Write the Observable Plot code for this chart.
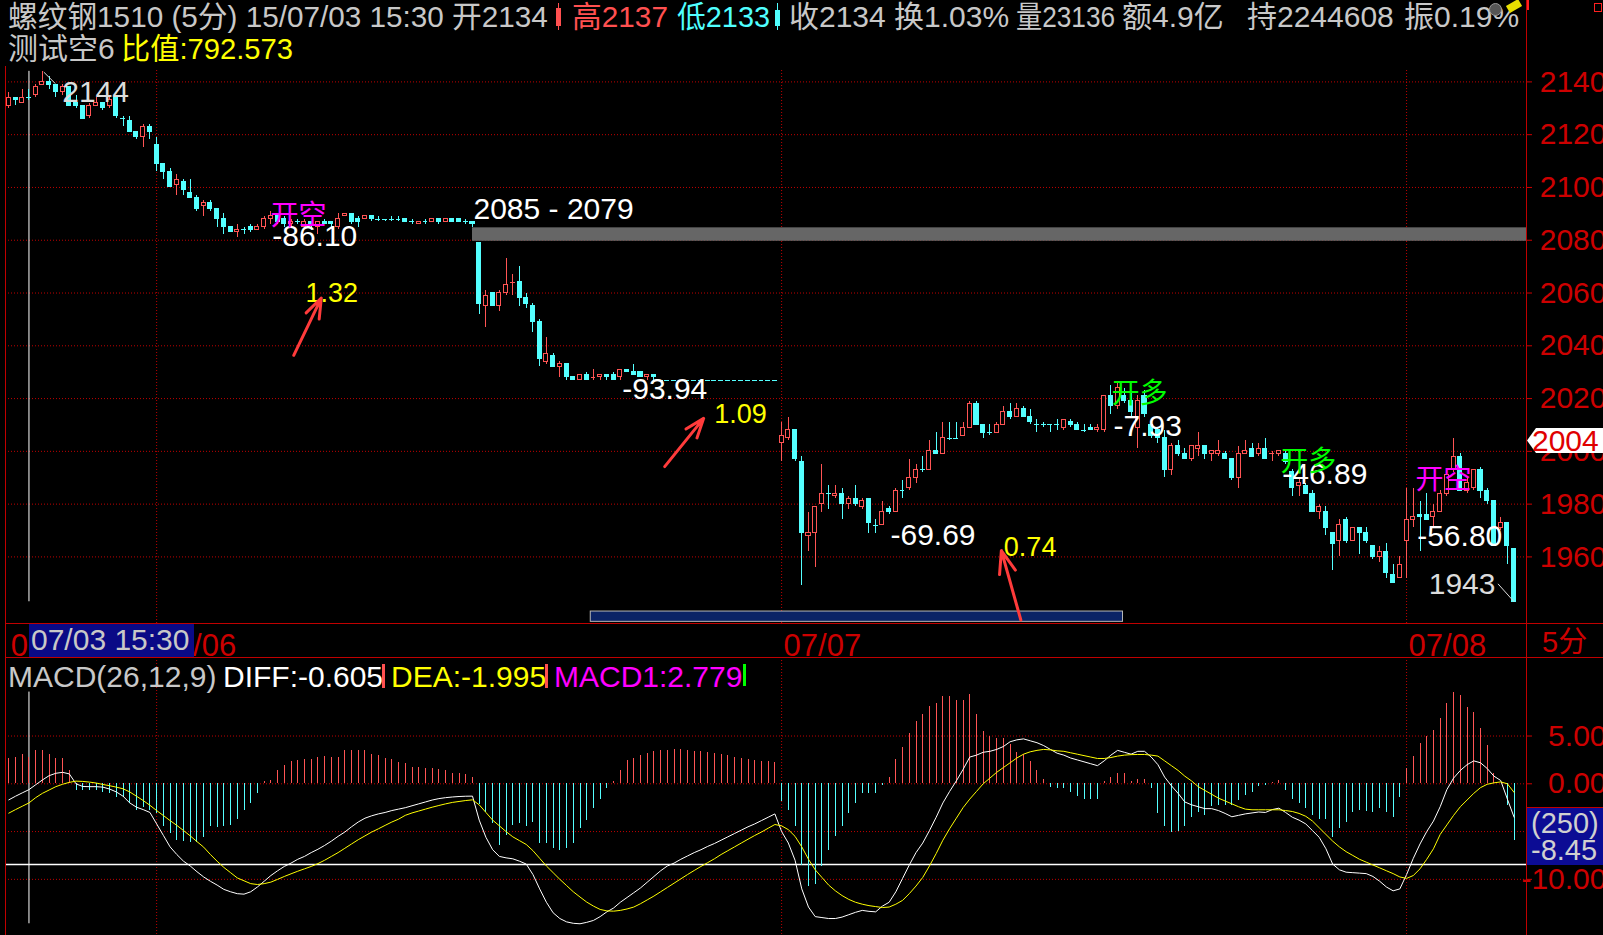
<!DOCTYPE html>
<html lang="zh">
<head>
<meta charset="utf-8">
<title>螺纹钢1510 (5分)</title>
<script src="https://cdn.jsdelivr.net/npm/d3@7"></script>
<script src="https://cdn.jsdelivr.net/npm/@observablehq/plot@0.6"></script>
<style>
html,body{margin:0;padding:0;background:#000;}
body{width:1603px;height:935px;overflow:hidden;position:relative;font-family:"Liberation Sans","Noto Sans CJK SC",sans-serif;}
.abs{position:absolute;}
.t{position:absolute;white-space:nowrap;transform-origin:0 50%;}
</style>
</head>
<body>
<script>
// ---------------- DATA ----------------
// 5-minute bars, 07/03 (part) .. 07/08 (part)
const open = [
2131,2134,2132,2134,2135,2139,2140,2139,2136,2138,
2132,2131,2127,2131,2132,2131,2134,2126,2125,2121,
2119,2123,2116,2109,2106,2101,2102,2098,2096,2093,
2094,2092,2088,2085,2083,2084,2085,2084,2085,2088,
2089,2088,2086,2087,2085,2087,2085,2087,2087,2085,
2089,2090,2088,2088,2089,2088,2088,2088,2088,2088,
2087,2086,2087,2087,2088,2087,2088,2088,2087,2087,
2079,2055,2060,2055,2060,2064,2064,2058,2055,2049,
2034,2036,2032,2033,2028,2027,2029,2028,2028,2029,
2029,2028,2031,2030,2030,2028,2029,2027,2027,2027,
2027,2027,2027,2027,2027,2027,2027,2027,2027,2027,
2027,2027,2027,2027,2027,2003,2005,2008,1996,1968,
1969,1980,1984,1983,1984,1980,1982,1979,1982,1972,
1972,1978,1977,1985,1986,1990,1993,1993,2000,1999,
2005,2005,2006,2009,2018,2010,2007,2007,2010,2015,
2013,2016,2013,2010,2010,2010,2010,2009,2011,2010,
2008,2009,2008,2008,2021,2017,2021,2019,2009,2021,
2010,2008,2005,1993,2002,1999,1997,2001,2002,1999,
1999,1999,1997,1990,1999,2001,1999,2001,1999,1999,
1999,1992,1987,1987,1984,1977,1977,1969,1966,1974,
1966,1971,1969,1964,1960,1962,1953,1952,1966,1974,
1976,1976,1975,1977,1984,1993,1998,1985,1986,1993,
1985,1981,1971,1973,1963];
const high = [
2136,2134,2137,2137,2139,2144,2142,2139,2139,2138,
2135,2131,2132,2134,2132,2134,2134,2127,2127,2121,
2124,2124,2119,2109,2107,2105,2103,2103,2097,2095,
2095,2092,2090,2085,2086,2085,2086,2086,2089,2091,
2089,2089,2088,2088,2088,2087,2087,2088,2087,2090,
2090,2090,2089,2089,2089,2089,2088,2089,2089,2088,
2088,2087,2088,2088,2088,2088,2088,2088,2088,2087,
2079,2061,2060,2061,2073,2067,2070,2060,2056,2050,
2043,2037,2034,2033,2028,2029,2030,2031,2029,2029,
2030,2031,2031,2033,2030,2029,2029,2027,2027,2027,
2027,2027,2027,2027,2027,2027,2027,2027,2027,2027,
2027,2027,2027,2027,2027,2011,2013,2008,1998,1977,
1979,1995,1987,1987,1986,1983,1987,1982,1982,1974,
1981,1979,1986,1989,1997,1995,1998,2004,2007,2011,
2011,2011,2011,2019,2019,2010,2010,2011,2017,2018,
2018,2017,2016,2012,2011,2010,2012,2012,2012,2011,
2010,2010,2010,2021,2025,2026,2024,2022,2021,2023,
2012,2009,2008,2003,2004,2001,2002,2007,2002,2000,
2004,2000,1997,2002,2004,2003,2003,2005,2000,2000,
2000,1993,1990,1988,1985,1980,1979,1969,1974,1975,
1971,1971,1971,1964,1964,1965,1957,1960,1986,1986,
1981,1984,1980,1985,1991,2005,1999,1990,1993,1994,
1986,1981,1975,1973,1963];
const low = [
2130,2131,2132,2133,2134,2139,2137,2134,2135,2131,
2130,2126,2126,2131,2129,2130,2126,2123,2121,2118,
2115,2118,2106,2103,2100,2097,2097,2096,2091,2089,
2091,2085,2082,2083,2081,2082,2083,2084,2084,2086,
2086,2085,2085,2086,2085,2084,2082,2086,2085,2084,
2089,2086,2085,2088,2087,2087,2087,2087,2087,2087,
2086,2086,2086,2087,2086,2087,2087,2087,2086,2085,
2052,2047,2055,2053,2059,2059,2055,2054,2045,2032,
2033,2032,2028,2027,2027,2027,2027,2027,2027,2027,
2027,2027,2030,2029,2028,2027,2027,2027,2027,2027,
2027,2027,2027,2027,2027,2027,2027,2027,2027,2027,
2027,2027,2027,2027,2027,1996,2004,1996,1949,1962,
1956,1977,1978,1982,1974,1978,1979,1978,1969,1969,
1972,1976,1977,1982,1985,1988,1992,1993,1999,1999,
2004,2005,2006,2009,2010,2005,2006,2007,2010,2012,
2013,2013,2010,2007,2009,2007,2008,2008,2009,2008,
2007,2008,2007,2007,2014,2016,2018,2013,2001,2013,
2005,2003,1990,1991,1998,1997,1996,1998,1997,1996,
1998,1997,1989,1986,1999,1998,1998,1997,1996,1998,
1995,1983,1983,1984,1977,1974,1968,1955,1960,1965,
1966,1961,1965,1959,1958,1952,1950,1952,1952,1971,
1962,1974,1971,1977,1983,1992,1985,1984,1985,1982,
1980,1964,1970,1957,1943];
const close = [
2134,2133,2134,2134,2138,2140,2139,2136,2138,2131,
2131,2126,2131,2132,2130,2133,2127,2126,2121,2119,
2123,2121,2109,2106,2100,2103,2099,2096,2092,2094,
2092,2088,2085,2083,2084,2084,2084,2085,2088,2089,
2087,2086,2087,2087,2087,2086,2087,2086,2086,2088,
2090,2087,2087,2089,2088,2088,2088,2088,2088,2087,
2087,2087,2087,2088,2087,2088,2087,2087,2087,2086,
2056,2059,2055,2060,2063,2064,2058,2056,2049,2035,
2037,2032,2033,2028,2027,2029,2027,2028,2029,2028,
2027,2031,2030,2029,2028,2029,2028,2027,2027,2027,
2027,2027,2027,2027,2027,2027,2027,2027,2027,2027,
2027,2027,2027,2027,2027,2006,2008,1997,1969,1969,
1979,1984,1984,1984,1980,1982,1980,1981,1973,1972,
1977,1977,1985,1985,1990,1993,1993,2000,1999,2005,
2005,2005,2009,2018,2010,2007,2007,2010,2015,2013,
2016,2013,2011,2010,2010,2010,2010,2012,2010,2008,
2008,2008,2009,2021,2017,2024,2019,2015,2019,2014,
2006,2005,1993,2002,1999,1997,2002,2002,1999,2000,
2000,1997,1990,1999,2000,1998,2001,1997,1999,2000,
1996,1986,1988,1984,1977,1979,1971,1965,1972,1966,
1971,1969,1966,1960,1962,1954,1950,1957,1974,1975,
1975,1974,1977,1984,1991,1998,1985,1988,1993,1985,
1981,1964,1973,1964,1943];

// MACD(26,12,9)
const diff = [
-1.68,-1.3,-0.95,-0.61,-0.1,0.4,0.85,1.1,1.2,1.04,
0.0,-0.28,-0.3,-0.3,-0.35,-0.55,-0.85,-1.3,-2.0,-2.45,
-2.7,-3.0,-4.2,-5.4,-6.6,-7.4,-8.1,-8.6,-9.2,-9.75,
-10.2,-10.6,-11.05,-11.3,-11.5,-11.55,-11.3,-10.8,-10.2,-9.6,
-9.1,-8.65,-8.3,-7.9,-7.6,-7.2,-6.85,-6.45,-6.0,-5.5,
-5.05,-4.5,-4.0,-3.6,-3.35,-3.15,-3.0,-2.8,-2.65,-2.5,
-2.3,-2.1,-1.9,-1.7,-1.55,-1.45,-1.38,-1.33,-1.3,-1.29,
-3.8,-5.6,-6.9,-7.6,-7.75,-7.85,-8.1,-8.4,-9.5,-11.0,
-12.4,-13.5,-14.1,-14.45,-14.6,-14.65,-14.5,-14.3,-13.9,-13.4,
-13.0,-12.4,-11.9,-11.4,-10.9,-10.3,-9.7,-9.1,-8.6,-8.3,
-7.9,-7.55,-7.2,-6.9,-6.55,-6.25,-5.9,-5.55,-5.2,-4.85,
-4.5,-4.2,-3.85,-3.5,-3.15,-5.0,-6.2,-8.0,-11.0,-12.9,
-13.9,-14.0,-14.1,-14.1,-13.95,-13.7,-13.45,-13.25,-13.35,-13.4,
-12.8,-12.4,-11.3,-9.9,-8.5,-7.2,-6.2,-4.9,-3.5,-2.0,
-0.8,0.3,1.5,2.8,3.0,3.3,3.4,3.6,3.9,4.4,
4.6,4.7,4.5,4.3,4.0,3.6,3.2,3.0,2.7,2.5,
2.3,2.1,1.9,2.4,3.0,3.5,3.3,3.1,3.4,3.4,
2.8,2.0,0.7,-0.2,-1.0,-1.9,-2.2,-2.4,-2.6,-2.6,
-2.8,-3.1,-3.45,-3.3,-3.15,-3.05,-2.95,-3.0,-2.7,-2.55,
-3.0,-3.5,-3.8,-4.2,-4.9,-5.6,-6.8,-8.4,-9.0,-9.25,
-9.3,-9.35,-9.4,-9.7,-10.2,-10.8,-11.2,-11.0,-9.5,-7.8,
-6.3,-5.0,-3.9,-2.4,-0.6,0.6,1.4,2.0,2.4,2.2,
1.6,0.8,0.35,-1.6,-3.5];
const dea = [
-3.07,-2.7,-2.35,-2.0,-1.45,-1.0,-0.65,-0.3,-0.05,0.15,
0.28,0.25,0.18,0.08,-0.07,-0.2,-0.35,-0.52,-0.85,-1.3,
-1.75,-2.25,-2.8,-3.32,-3.85,-4.35,-4.89,-5.45,-6.05,-6.63,
-7.4,-8.1,-8.75,-9.3,-9.85,-10.15,-10.45,-10.54,-10.45,-10.29,
-10.0,-9.7,-9.42,-9.15,-8.9,-8.65,-8.35,-8.0,-7.6,-7.2,
-6.75,-6.3,-5.85,-5.45,-5.05,-4.71,-4.35,-4.0,-3.7,-3.3,
-3.05,-2.85,-2.65,-2.45,-2.27,-2.1,-1.95,-1.85,-1.75,-1.68,
-2.2,-3.0,-3.8,-4.4,-5.0,-5.55,-5.95,-6.35,-7.0,-7.8,
-8.6,-9.3,-10.0,-10.65,-11.3,-11.85,-12.38,-12.8,-13.15,-13.3,
-13.33,-13.25,-13.1,-12.9,-12.55,-12.15,-11.75,-11.3,-10.85,-10.4,
-9.95,-9.5,-9.07,-8.65,-8.25,-7.85,-7.4,-7.0,-6.6,-6.2,
-5.8,-5.41,-5.05,-4.65,-4.26,-4.4,-4.8,-5.5,-6.6,-7.9,
-9.0,-9.8,-10.6,-11.2,-11.7,-12.1,-12.4,-12.6,-12.75,-12.85,
-12.95,-12.9,-12.6,-12.2,-11.5,-10.7,-9.8,-8.6,-7.3,-5.9,
-4.7,-3.6,-2.5,-1.6,-0.8,0.0,0.6,1.2,1.7,2.2,
2.7,3.1,3.35,3.5,3.6,3.55,3.45,3.4,3.25,3.1,
2.95,2.8,2.65,2.65,2.75,2.9,3.0,3.05,3.07,3.07,
3.0,2.9,2.4,1.9,1.4,0.8,0.3,-0.3,-0.7,-1.1,
-1.5,-1.8,-2.1,-2.4,-2.65,-2.72,-2.72,-2.72,-2.72,-2.72,
-2.8,-2.9,-3.1,-3.4,-3.9,-4.6,-5.3,-6.0,-6.6,-7.1,
-7.5,-7.9,-8.2,-8.5,-8.8,-9.1,-9.4,-9.75,-9.9,-9.6,
-8.9,-7.9,-6.8,-5.3,-4.3,-3.3,-2.4,-1.7,-1.0,-0.4,
-0.05,0.1,0.2,0.0,-0.9];
const macd1 = [
2.61,2.79,3.07,2.78,3.49,3.49,3.07,2.61,2.61,1.39,
-0.7,-0.7,-0.7,-0.7,-0.9,-1.0,-1.4,-1.4,-2.1,-2.8,
-2.5,-2.8,-3.1,-4.5,-5.2,-5.9,-6.0,-6.1,-6.1,-5.6,
-4.5,-4.6,-4.5,-4.4,-3.7,-2.8,-2.1,-1.0,0.2,0.35,
1.39,1.9,2.3,2.4,2.5,2.5,2.8,2.9,2.8,2.8,
3.5,3.45,3.5,3.45,3.1,2.96,2.7,2.5,2.2,2.1,
1.7,1.7,1.6,1.6,1.5,1.4,1.1,1.05,1.0,0.7,
-2.2,-3.0,-4.2,-6.5,-5.4,-4.4,-4.2,-4.5,-4.0,-6.3,
-6.3,-6.8,-7.0,-6.8,-6.3,-4.7,-3.8,-2.6,-1.6,-0.5,
0.2,1.4,2.4,2.7,3.0,3.2,3.4,3.5,3.5,3.6,
3.6,3.5,3.4,3.4,3.3,3.2,3.1,3.0,2.8,2.7,
2.5,2.4,2.35,2.3,2.2,-1.9,-2.8,-4.5,-8.5,-10.8,
-10.5,-8.7,-7.0,-5.5,-4.5,-3.1,-2.1,-1.05,-1.0,-1.0,
-0.2,0.7,2.5,3.8,5.3,6.5,7.3,8.1,8.4,9.1,
9.1,8.7,8.7,9.3,7.3,5.5,4.9,4.7,4.7,4.1,
3.3,3.1,2.3,1.4,0.5,-0.35,-0.5,-0.5,-0.9,-1.3,
-1.6,-1.6,-1.6,0.2,0.7,1.1,1.1,0.2,0.4,0.5,
-0.5,-3.1,-4.5,-5.1,-5.0,-4.5,-3.5,-3.0,-3.3,-2.4,
-2.3,-2.3,-2.3,-1.75,-1.2,-0.9,-0.3,-0.2,0.1,0.35,
-0.7,-1.6,-2.1,-2.6,-3.3,-3.7,-3.7,-5.6,-4.7,-4.0,
-3.0,-2.8,-2.9,-3.0,-2.6,-3.0,-3.5,-1.4,1.6,2.9,
4.2,4.95,5.6,6.8,8.4,9.6,9.2,8.0,7.5,5.75,
4.0,1.05,0.0,-2.3,-5.9];

const priceTicks = [2140,2120,2100,2080,2060,2040,2020,2000,1980,1960];
const macdTicks = [5,0,-10];
const macdGrid = [5,0,-5,-10];
const dayStart = [0,22,115,208];
const dayLabel = ["07/03","07/06","07/07","07/08"];
const cursorBar = 3;
const macdRef = -8.45;

// drawings on the price panel (bar index, price)
const notes = [
 {text:"2144", bar:7.95, price:2132.3, kind:"extreme"},
 {text:"开空", bar:38.94, price:2085.7, kind:"short"},
 {text:"-86.10", bar:39.2, price:2078.0, kind:"pnl"},
 {text:"1.32", bar:44.15, price:2056.5, kind:"ratio"},
 {text:"2085 - 2079", bar:69.15, price:2088.2, kind:"pnl"},
 {text:"-93.94", bar:91.28, price:2019.8, kind:"pnl"},
 {text:"1.09", bar:104.96, price:2010.7, kind:"ratio"},
 {text:"-69.69", bar:131.2, price:1964.7, kind:"pnl"},
 {text:"0.74", bar:148.07, price:1960.2, kind:"ratio"},
 {text:"开多", bar:164.1, price:2018.5, kind:"long"},
 {text:"-7.93", bar:164.4, price:2006.0, kind:"pnl"},
 {text:"开多", bar:189.2, price:1992.7, kind:"long"},
 {text:"-46.89", bar:189.5, price:1987.7, kind:"pnl"},
 {text:"开空", bar:209.33, price:1985.9, kind:"short"},
 {text:"-56.80", bar:209.58, price:1964.1, kind:"pnl"},
 {text:"1943", bar:211.3, price:1946.1, kind:"extreme"}
];
const leaders = [
 {b1:5.21, p1:2143.7, b2:6.95, p2:2139.3},
 {b1:221.6, p1:1949.8, b2:224, p2:1943}
];
const arrows = [
 {b1:42.4, p1:2036.4, b2:46.5, p2:2058.1},
 {b1:97.6, p1:1994.2, b2:103.4, p2:2012.5},
 {b1:150.6, p1:1936.1, b2:147.7, p2:1962.4}
];
const gapZone = {from:69, high:2084.7, low:2079.6};
const blueBar = {from:86.6, to:165.8, high:1939.3, low:1935.4};

// ---------------- STYLE ----------------
const RED = "#ff5454", CYAN = "#54ffff", GRID = "#c00000", AXIS = "#cc0000",
      GRAY = "#c8c8c8", YEL = "#ffff00", MAG = "#ff00ff", GRN = "#00ff00", WHITE = "#ffffff";
const FONT = '"Liberation Sans","Noto Sans CJK SC",sans-serif';
const kindColor = {extreme:"#dcdcdc", short:MAG, long:GRN, pnl:WHITE, ratio:YEL};
const N = close.length;
const X = {domain:[0, N - 1], range:[8.3, 1513.6], axis:null};
const svgStyle = {background:"transparent", fontFamily:FONT, overflow:"visible", maxWidth:"none"};

const bars = d3.range(N).map(i => ({
  i, o:open[i], h:high[i], l:low[i], c:close[i],
  up: close[i] > open[i] || (close[i] === open[i] && i > 0 && close[i] > close[i - 1])
}));
const col = d => d.up ? RED : CYAN;
const HW = 0.3;

function place(el, top) {
  el.style.position = "absolute"; el.style.left = "0px"; el.style.top = top + "px";
  document.body.appendChild(el);
}

// ---------------- PRICE PANEL ----------------
const pricePlot = Plot.plot({
  width:1603, height:623, marginLeft:5, marginRight:77, marginTop:70, marginBottom:0,
  x:X,
  y:{domain:[1934.77, 2144.32], range:[623, 70]},
  color:{type:"identity"},
  style:svgStyle,
  marks:[
    Plot.ruleY(priceTicks, {stroke:GRID, strokeDasharray:"1,2"}),
    Plot.ruleX(dayStart.slice(1), {stroke:GRID, strokeDasharray:"1,2"}),
    Plot.rect([gapZone], {x1:"from", x2:() => N - 1, insetRight:-12.4, y1:"low", y2:"high", fill:"#666666"}),
    Plot.rect([blueBar], {x1:"from", x2:"to", y1:"low", y2:"high", fill:"#0b2366", stroke:"#b8b8b8"}),
    Plot.ruleX([cursorBar], {y1:d3.min(low), y2:d3.max(high), stroke:WHITE}),
    Plot.ruleX(bars, {x:"i", y1:"l", y2:"h", stroke:col, shapeRendering:"crispEdges"}),
    Plot.rect(bars.filter(d => d.o !== d.c), {x1:d => d.i - HW, x2:d => d.i + HW, y1:"o", y2:"c",
      fill:d => d.up ? "#000000" : CYAN, stroke:col, shapeRendering:"crispEdges"}),
    Plot.ruleY(bars.filter(d => d.o === d.c), {y:"c", x1:d => d.i - 0.36, x2:d => d.i + 0.36, stroke:col, shapeRendering:"crispEdges"}),
    Plot.link(leaders, {x1:"b1", y1:"p1", x2:"b2", y2:"p2", stroke:"#dcdcdc"}),
    Plot.text(notes.filter(d => d.kind === "pnl" || d.kind === "extreme"), {x:"bar", y:"price", text:"text",
      fill:d => kindColor[d.kind], fontSize:30, textAnchor:"start", lineAnchor:"bottom"}),
    Plot.text(notes.filter(d => d.kind === "short" || d.kind === "long"), {x:"bar", y:"price", text:"text",
      fill:d => kindColor[d.kind], fontSize:28, textAnchor:"start", lineAnchor:"bottom"}),
    Plot.text(notes.filter(d => d.kind === "ratio"), {x:"bar", y:"price", text:"text",
      fill:d => kindColor[d.kind], fontSize:27, textAnchor:"start", lineAnchor:"bottom"}),
    Plot.arrow(arrows, {x1:"b1", y1:"p1", x2:"b2", y2:"p2", stroke:"#ff3b3b", strokeWidth:3, headLength:14, headAngle:40}),
    Plot.axisY(priceTicks, {anchor:"right", tickSize:5, tickPadding:75, textAnchor:"end", fontSize:30,
      color:AXIS, stroke:AXIS, fill:AXIS, tickFormat:d => String(d), label:null})
  ]
});
place(pricePlot, 0);

// ---------------- DATE STRIP ----------------
const days = dayStart.map((b, k) => ({bar:b, label:dayLabel[k]}));
const stripPlot = Plot.plot({
  width:1603, height:34, marginLeft:5, marginRight:77, marginTop:0, marginBottom:0,
  x:X, color:{type:"identity"}, style:svgStyle,
  marks:[
    Plot.text(days, {x:"bar", text:"label", frameAnchor:"bottom", lineAnchor:"bottom", textAnchor:"start",
      dx:2, dy:-2, fill:AXIS, fontSize:31})
  ]
});
place(stripPlot, 623);

// ---------------- MACD PANEL ----------------
const allM = diff.concat(dea, macd1);
const macdPlot = Plot.plot({
  width:1603, height:278, marginLeft:5, marginRight:77, marginTop:0, marginBottom:0,
  x:X,
  y:{domain:[-10, 5], range:[221.85, 78.53]},
  color:{type:"identity"},
  style:svgStyle,
  marks:[
    Plot.ruleY(macdGrid, {stroke:GRID, strokeDasharray:"1,2"}),
    Plot.ruleX(dayStart.slice(1), {stroke:GRID, strokeDasharray:"1,2"}),
    Plot.ruleY([macdRef], {stroke:WHITE, strokeWidth:1.5}),
    Plot.ruleX([cursorBar], {y1:d3.min(allM), y2:d3.max(allM), stroke:WHITE}),
    Plot.ruleX(d3.range(N), {x:i => i, y1:0, y2:i => macd1[i], stroke:i => macd1[i] >= 0 ? RED : CYAN, shapeRendering:"crispEdges"}),
    Plot.lineY(diff, {stroke:WHITE, strokeWidth:1}),
    Plot.lineY(dea, {stroke:YEL, strokeWidth:1}),
    Plot.axisY(macdTicks, {anchor:"right", tickSize:5, tickPadding:75, textAnchor:"end", fontSize:30,
      color:AXIS, stroke:AXIS, fill:AXIS, tickFormat:d => d.toFixed(2), label:null})
  ]
});
place(macdPlot, 657);

// ---------------- HTML TEXT / FRAME ----------------
function txt(s, x, base, color, size, maxW) {
  const d = document.createElement("div");
  d.className = "t"; d.textContent = s;
  Object.assign(d.style, {left:x + "px", top:(base - 0.8465 * size) + "px", color:color,
    fontSize:size + "px", lineHeight:size + "px"});
  document.body.appendChild(d);
  if (maxW) {
    const w = d.getBoundingClientRect().width;
    if (w > maxW) d.style.transform = "scaleX(" + (maxW / w).toFixed(3) + ")";
  }
  return d;
}
function box(x, y, w, h, css) {
  const d = document.createElement("div");
  d.className = "abs";
  Object.assign(d.style, {left:x + "px", top:y + "px", width:w + "px", height:h + "px"}, css || {});
  document.body.appendChild(d); return d;
}

// frame lines
box(1526, 0, 1, 935, {background:"#c00000"});
box(5, 66, 1, 869, {background:"#c00000"});
box(5, 623, 1598, 1, {background:"#c00000"});
box(5, 657, 1598, 1, {background:"#c00000"});

// header line 1 : text, left edge, colour (each piece is fitted before the next one)
const head = [
 ["螺纹钢1510 (5分) 15/07/03 15:30 开2134", 8, GRAY],
 ["高2137", 572, "#ff5050"],
 ["低2133", 677, "#50ffff"],
 ["收2134", 789, GRAY], ["换1.03%", 894, GRAY], ["量23136", 1016, GRAY],
 ["额4.9亿", 1122, GRAY], ["持2244608", 1247, GRAY], ["振0.19%", 1404, GRAY]
];
const headStop = [548, 668, 770, 886, 1010, 1115, 1240, 1396, 1522];
head.forEach(([s, x, c], k) => txt(s, x, 27, c, 30, headStop[k] - x));
box(558, 3, 1, 27, {background:"#ff5050"}); box(556, 8, 5, 18, {background:"#ff5050"});
box(777, 3, 1, 27, {background:"#50ffff"}); box(775, 10, 5, 16, {background:"#50ffff"});
// line 2
txt("测试空6", 8, 59, GRAY, 30);
txt("比值:792.573", 121, 59, YEL, 30, 172);

// little toolbar icons
box(1489, 3, 11, 11, {border:"1px solid #9a9a9a", borderRadius:"50%", background:"#555"});
box(1507, 2, 14, 8, {background:"#e8e000", transform:"rotate(-30deg)"});
box(1527, 0, 5, 10, {borderLeft:"2px solid #ff2020"});
box(1594, 3, 6, 7, {border:"1px solid #ff2020"});

// MACD header
txt("MACD(26,12,9)", 8, 687, GRAY, 30);
txt("DIFF:-0.605", 223, 687, WHITE, 30);
box(382, 664, 3, 24, {background:"#ff5050"});
txt("DEA:-1.995", 391, 687, YEL, 30);
box(545, 664, 3, 24, {background:"#ff5050"});
txt("MACD1:2.779", 554, 687, MAG, 30);
box(743, 664, 3, 22, {background:"#00ff00"});

// cursor time box in the date strip
box(29, 624, 165, 33, {background:"#0a0a86"});
txt("07/03 15:30", 31, 650, GRAY, 30);
txt("5分", 1542, 653, AXIS, 29);

// current price tag
box(1527, 428, 76, 25, {background:"#ffffff", clipPath:"polygon(0 50%, 9px 0, 100% 0, 100% 100%, 9px 100%)"});
txt("2004", 1532, 451, "#e00000", 30);

// reference level box on MACD axis
box(1527, 807, 76, 57, {background:"#0c0c94", borderTop:"1px solid #c00000"});
txt("(250)", 1531, 834, "#d0d0d0", 29);
txt("-8.45", 1531, 861, "#d0d0d0", 29);
</script>
</body>
</html>
